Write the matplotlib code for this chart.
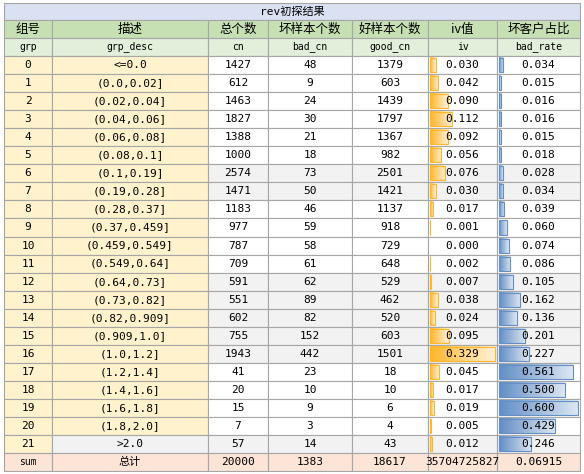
import matplotlib
matplotlib.use("Agg")
import matplotlib.pyplot as plt
import numpy as np
from matplotlib.patches import Rectangle

plt.rcParams['font.family'] = ['Noto Sans CJK SC', 'DejaVu Sans']

title = "rev初探结果"
headers_cn = ["组号", "描述", "总个数", "坏样本个数", "好样本个数", "iv值", "坏客户占比"]
headers_en = ["grp", "grp_desc", "cn", "bad_cn", "good_cn", "iv", "bad_rate"]
grp = list(range(22))
desc = ["<=0.0", "(0.0,0.02]", "(0.02,0.04]", "(0.04,0.06]", "(0.06,0.08]", "(0.08,0.1]",
        "(0.1,0.19]", "(0.19,0.28]", "(0.28,0.37]", "(0.37,0.459]", "(0.459,0.549]",
        "(0.549,0.64]", "(0.64,0.73]", "(0.73,0.82]", "(0.82,0.909]", "(0.909,1.0]",
        "(1.0,1.2]", "(1.2,1.4]", "(1.4,1.6]", "(1.6,1.8]", "(1.8,2.0]", ">2.0"]
cn = [1427, 612, 1463, 1827, 1388, 1000, 2574, 1471, 1183, 977, 787, 709, 591, 551, 602, 755,
      1943, 41, 20, 15, 7, 57]
bad_cn = [48, 9, 24, 30, 21, 18, 73, 50, 46, 59, 58, 61, 62, 89, 82, 152, 442, 23, 10, 9, 3, 14]
good_cn = [1379, 603, 1439, 1797, 1367, 982, 2501, 1421, 1137, 918, 729, 648, 529, 462, 520, 603,
           1501, 18, 10, 6, 4, 43]
iv = [0.030, 0.042, 0.090, 0.112, 0.092, 0.056, 0.076, 0.030, 0.017, 0.001, 0.000, 0.002, 0.007,
      0.038, 0.024, 0.095, 0.329, 0.045, 0.017, 0.019, 0.005, 0.012]
bad_rate = [0.034, 0.015, 0.016, 0.016, 0.015, 0.018, 0.028, 0.034, 0.039, 0.060, 0.074, 0.086,
            0.105, 0.162, 0.136, 0.201, 0.227, 0.561, 0.500, 0.600, 0.429, 0.246]
sum_row = ["sum", "总计", "20000", "1383", "18617", "35704725827", "0.06915"]
grey_rows = {6, 7, 12, 13, 14, 15, 16, 21}

W, H = 584, 474
fig = plt.figure(figsize=(W/100, H/100), dpi=100)
ax = fig.add_axes([0, 0, 1, 1])
ax.set_xlim(0, W); ax.set_ylim(H, 0); ax.axis('off')

xs = [4, 52, 208, 268, 352, 428, 497, 580]
y_title, y_h1, y_h2, y_d0 = 3, 20, 38, 56
rh = 18.05
line = '#a6a6a6'
fs = 8
mono = ['DejaVu Sans Mono', 'Noto Sans CJK SC']

def cell(x0, x1, y0, y1, fc):
    ax.add_patch(Rectangle((x0, y0), x1-x0, y1-y0, facecolor=fc, edgecolor=line, lw=0.8))

def gbar(x0, y0, w, h, c1, c2, ec):
    if w <= 0:
        return
    grad = np.linspace(0, 1, 64)[None, :]
    from matplotlib.colors import LinearSegmentedColormap
    cmap = LinearSegmentedColormap.from_list('g', [c1, c2])
    ax.imshow(grad, cmap=cmap, extent=(x0, x0+w, y0+h, y0), aspect='auto', zorder=2)
    ax.add_patch(Rectangle((x0, y0), w, h, fill=False, edgecolor=ec, lw=0.8, zorder=3))

# title
cell(xs[0], xs[-1], y_title, y_h1, '#d9e1f2')
ax.text((xs[0]+xs[-1])/2, (y_title+y_h1)/2, title, ha='center', va='center', fontsize=fs, family=mono)
for i in range(7):
    cell(xs[i], xs[i+1], y_h1, y_h2, '#c6e0b4')
    ax.text((xs[i]+xs[i+1])/2, (y_h1+y_h2)/2, headers_cn[i], ha='center', va='center', fontsize=fs+1)
    cell(xs[i], xs[i+1], y_h2, y_d0, '#e2efda')
    ax.text((xs[i]+xs[i+1])/2, (y_h2+y_d0)/2, headers_en[i], ha='center', va='center', fontsize=fs-1, family=mono)

ivmax, brmax = max(iv), max(bad_rate)
for r in range(len(grp)):
    y0 = y_d0 + r*rh; y1 = y0 + rh; yc = (y0+y1)/2
    base = '#f2f2f2' if r in grey_rows else 'white'
    cell(xs[0], xs[1], y0, y1, '#fff2cc')
    cell(xs[1], xs[2], y0, y1, '#f2f2f2' if r == 21 else '#fff2cc')
    for i in range(2, 7):
        cell(xs[i], xs[i+1], y0, y1, base)
    # bars
    bw = (xs[6]-xs[5]-4)
    gbar(xs[5]+2, y0+2, bw*iv[r]/ivmax, rh-4, '#ffb628', '#fff0d8', '#ffb628')
    bw2 = (xs[7]-xs[6]-4)
    gbar(xs[6]+2, y0+2, bw2*bad_rate[r]/brmax, rh-4, '#638ec6', '#dce6f2', '#638ec6')
    vals = [str(grp[r]), desc[r], str(cn[r]), str(bad_cn[r]), str(good_cn[r]),
            f"{iv[r]:.3f}", f"{bad_rate[r]:.3f}"]
    for i, v in enumerate(vals):
        ax.text((xs[i]+xs[i+1])/2, yc, v, ha='center', va='center', fontsize=fs, family=mono, zorder=4)

y0 = y_d0 + len(grp)*rh; y1 = y0 + rh
for i in range(7):
    cell(xs[i], xs[i+1], y0, y1, '#fce4d6')
    ax.text((xs[i]+xs[i+1])/2, (y0+y1)/2, sum_row[i], ha='center', va='center',
            fontsize=fs if i != 0 else fs-1, family=mono)

fig.savefig('out.png', dpi=100)
